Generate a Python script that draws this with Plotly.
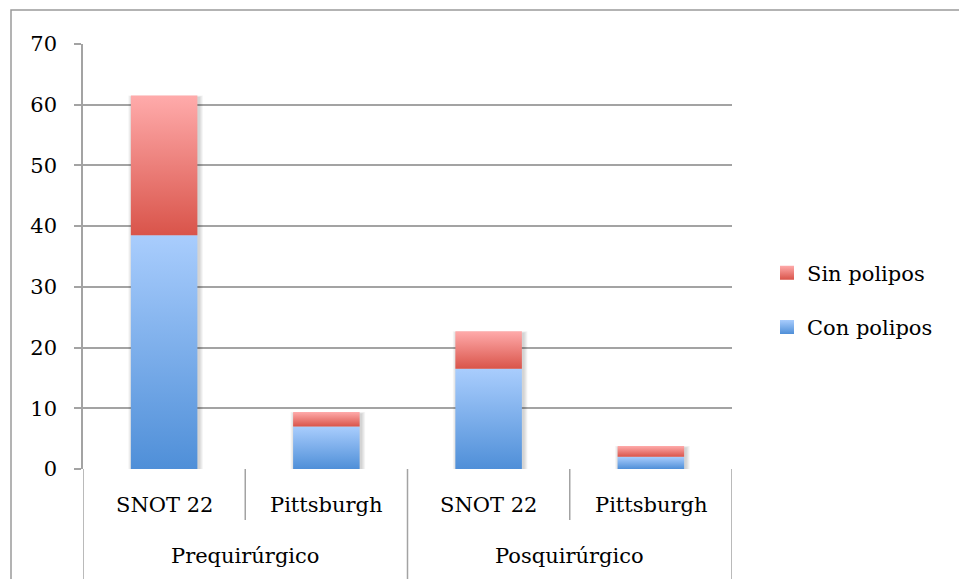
import plotly.graph_objects as go

# Data
scales = ["SNOT 22", "Pittsburgh", "SNOT 22", "Pittsburgh"]
periods = ["Prequirúrgico", "Posquirúrgico"]
con_polipos = [38.5, 7.0, 16.5, 2.0]
sin_polipos = [23.0, 2.4, 6.2, 1.8]
y_ticks = [0, 10, 20, 30, 40, 50, 60, 70]

# Styling
FONT = "DejaVu Serif"
GRID = "#a3a3a3"
BAR_W = 0.41
BLUE_TOP, BLUE_BOTTOM = "#a9cdfd", "#4f8fd8"
RED_TOP, RED_BOTTOM = "#ffabab", "#d9544a"

W, H = 959, 579
ML, MR, MT, MB = 83, 227, 44, 110
plot_w = W - ML - MR
plot_h = H - MT - MB
X_RANGE = [-0.5, 3.5]
Y_RANGE = [0, 70]
px_x = (X_RANGE[1] - X_RANGE[0]) / plot_w
px_y = (Y_RANGE[1] - Y_RANGE[0]) / plot_h


def rect(xc, y0, y1, w):
    return ([xc - w / 2, xc + w / 2, xc + w / 2, xc - w / 2, xc - w / 2],
            [y0, y0, y1, y1, y0])


fig = go.Figure()

# soft drop shadow behind each stacked column
for i, (c, s) in enumerate(zip(con_polipos, sin_polipos)):
    top = c + s
    for k in (1, 2, 3, 4):
        xs, ys = rect(i + 1.5 * px_x, -k * px_y, top - (2 - k * 0.5) * px_y,
                      BAR_W + 2 * k * px_x)
        fig.add_trace(go.Scatter(x=xs, y=ys, mode="lines", fill="toself",
                                 fillcolor="rgba(0,0,0,0.045)",
                                 line=dict(width=0), hoverinfo="skip",
                                 showlegend=False))

# stacked segments with vertical gradients
for i, (c, s) in enumerate(zip(con_polipos, sin_polipos)):
    for y0, y1, top_col, bot_col, name in (
        (0, c, BLUE_TOP, BLUE_BOTTOM, "Con polipos"),
        (c, c + s, RED_TOP, RED_BOTTOM, "Sin polipos"),
    ):
        xs, ys = rect(i, y0, y1, BAR_W)
        fig.add_trace(go.Scatter(
            x=xs, y=ys, mode="lines", fill="toself",
            fillgradient=dict(type="vertical",
                              colorscale=[[0, bot_col], [1, top_col]]),
            line=dict(width=0), name=name, showlegend=False,
            hovertemplate=f"{scales[i]}<br>{name}: {y1 - y0:g}<extra></extra>"))

# legend entries
for name, top_col, bot_col, grp in (
    ("Sin polipos", RED_TOP, RED_BOTTOM, "a"),
    ("Con polipos", BLUE_TOP, BLUE_BOTTOM, "b"),
):
    fig.add_trace(go.Scatter(
        x=[None], y=[None], mode="markers", name=name, legendgroup=grp,
        marker=dict(symbol="square", size=14, color=top_col,
                    line=dict(width=0),
                    gradient=dict(type="vertical", color=bot_col))))

# category axis: dividers and labels
shapes = []
line_style = dict(color=GRID, width=1.5)
y_bottom = -(H - (MT + plot_h)) / plot_h
for xv in (-0.5, 1.5, 3.5):
    shapes.append(dict(type="line", xref="x", yref="paper", x0=xv, x1=xv,
                       y0=0, y1=y_bottom, line=line_style, layer="below"))
for xv in (0.5, 2.5):
    shapes.append(dict(type="line", xref="x", yref="paper", x0=xv, x1=xv,
                       y0=0, y1=-51 / plot_h, line=line_style, layer="below"))
# chart frame
shapes.append(dict(type="rect", xref="paper", yref="paper",
                   x0=(11 - ML) / plot_w, x1=1.6,
                   y0=(MT + plot_h - 10) / plot_h, y1=-0.5,
                   line=dict(color="#9a9a9a", width=1.5), layer="below"))

annotations = []
for i, lab in enumerate(scales):
    annotations.append(dict(x=i, y=-36 / plot_h, xref="x", yref="paper",
                            text=lab, showarrow=False, yanchor="middle",
                            font=dict(family=FONT, size=21, color="black")))
for j, lab in enumerate(periods):
    annotations.append(dict(x=2 * j + 0.5, y=-87 / plot_h, xref="x",
                            yref="paper", text=lab, showarrow=False,
                            yanchor="middle",
                            font=dict(family=FONT, size=21, color="black")))

fig.update_layout(
    width=W, height=H,
    margin=dict(l=ML, r=MR, t=MT, b=MB, pad=0),
    paper_bgcolor="white", plot_bgcolor="white",
    showlegend=True,
    legend=dict(x=(767 - ML) / plot_w, y=(MT + plot_h - 300) / plot_h,
                xanchor="left", yanchor="middle",
                traceorder="grouped", tracegroupgap=24,
                font=dict(family=FONT, size=21, color="black"),
                bgcolor="rgba(0,0,0,0)", itemwidth=30),
    xaxis=dict(range=X_RANGE, showgrid=False, zeroline=False,
               showticklabels=False, ticks="", showline=False, fixedrange=True),
    yaxis=dict(range=Y_RANGE, tickvals=y_ticks, showgrid=True,
               gridcolor=GRID, gridwidth=1.5, zeroline=False,
               ticks="outside", ticklen=7, tickwidth=1.5, tickcolor=GRID,
               showline=True, linecolor=GRID, linewidth=1.5,
               ticklabelstandoff=13,
               tickfont=dict(family=FONT, size=21, color="black"),
               fixedrange=True),
    shapes=shapes,
    annotations=annotations,
)

fig.write_html("out.html")
